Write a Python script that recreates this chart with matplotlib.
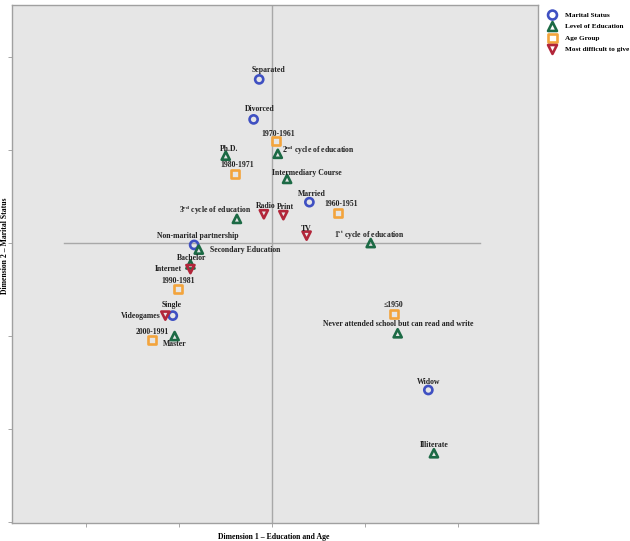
import matplotlib
matplotlib.use("Agg")
import matplotlib.pyplot as plt

plt.rcParams['font.family'] = ['Liberation Serif', 'DejaVu Serif']
plt.rcParams['font.weight'] = 'bold'

# ---- data ----
marital_labels = ["Separated", "Divorced", "Married", "Non-marital partnership", "Single", "Widow"]
marital_x = [-0.14, -0.20, 0.40, -0.84, -1.07, 1.68]
marital_y = [1.76, 1.33, 0.44, -0.02, -0.78, -1.58]

edu_labels = ["Ph.D.", "2$^{\\mathregular{nd}}$ cycle of education", "Intermediary Course",
              "3$^{\\mathregular{rd}}$ cycle of education", "1$^{\\mathregular{st}}$ cycle of education",
              "Secondary Education", "Bachelor", "Master",
              "Never attended school but can read and write", "Illiterate"]
edu_x = [-0.50, 0.06, 0.16, -0.38, 1.06, -0.79, -0.88, -1.05, 1.35, 1.74]
edu_y = [0.94, 0.96, 0.69, 0.26, 0.00, -0.07, -0.23, -1.00, -0.97, -2.26]

age_labels = ["1970-1961", "1980-1971", "1960-1951", "1990-1981", "2000-1991", "≤1950"]
age_x = [0.04, -0.40, 0.71, -1.01, -1.29, 1.31]
age_y = [1.10, 0.74, 0.32, -0.49, -1.04, -0.76]

diff_labels = ["Radio", "Print", "TV", "Internet", "Videogames"]
diff_x = [-0.09, 0.12, 0.37, -0.88, -1.15]
diff_y = [0.31, 0.30, 0.08, -0.28, -0.78]

legend_names = ["Marital Status", "Level of Education", "Age Group", "Most difficult to give"]

# label offsets in pixels (dx, dy, ha)
marital_off = [(9, 9, 'center'), (6, 10, 'center'), (2, 8, 'center'), (4, 9, 'center'),
               (-1, 11, 'center'), (0, 8, 'center')]
edu_off = [(3, 7, 'center'), (4, 4, 'left'), (20, 6, 'center'), (-22, 9, 'center'),
           (-1, 9, 'center'), (11, 0, 'left'), (1, 6, 'center'), (0, -8, 'center'),
           (1, 9, 'center'), (0, 8, 'center')]
age_off = [(2, 7, 'center'), (2, 9, 'center'), (3, 9, 'center'), (0, 8, 'center'),
           (0, 8, 'center'), (-1, 9, 'center')]
diff_off = [(2, 8, 'center'), (2, 8, 'center'), (0, 7, 'center'), (-9, 0, 'right'),
            (-5, 0, 'right')]

colors = ['#3f50c2', '#1c6a45', '#f3a43c', '#b2263a']
markers = ['o', '^', 's', 'v']

fig = plt.figure(figsize=(6.30, 5.41), dpi=100)
ax = fig.add_axes([12/630, 18/541, 526/630, 518/541])
ax.set_facecolor('#e6e6e6')
ax.set_xlim(-2.80, 2.86)
ax.set_ylim(-3.01, 2.56)

ax.axvline(0, color='#a8a8a8', lw=1.0, zorder=1)
ax.plot([-2.24, 2.24], [0, 0], color='#a8a8a8', lw=1.0, zorder=1)

groups = [(marital_x, marital_y, marital_labels, marital_off),
          (edu_x, edu_y, edu_labels, edu_off),
          (age_x, age_y, age_labels, age_off),
          (diff_x, diff_y, diff_labels, diff_off)]

for i, (xs, ys, labs, offs) in enumerate(groups):
    ax.scatter(xs, ys, marker=markers[i], s=34, facecolors='none',
               edgecolors=colors[i], linewidths=1.9, zorder=3, label=legend_names[i])
    for x, y, lab, (dx, dy, ha) in zip(xs, ys, labs, offs):
        ax.annotate(lab, (x, y), xytext=(dx, dy), textcoords='offset pixels',
                    ha=ha, va='center', fontsize=5.6, fontweight='bold', color='#222222')

ax.set_xticks([-2, -1, 0, 1, 2])
ax.set_yticks([-3, -2, -1, 0, 1, 2])
ax.set_xticklabels([])
ax.set_yticklabels([])
ax.tick_params(length=3, width=0.6, color='#999999', direction='out')
for s in ax.spines.values():
    s.set_color('#a0a0a0')
    s.set_linewidth(1.0)

ax.set_xlabel("Dimension 1 – Education and Age", fontsize=5.6, fontweight='bold')
ax.xaxis.set_label_coords(262/526, -14/518)
ax.xaxis.label.set_va('center')
ax.set_ylabel("Dimension 2 – Marital Status", fontsize=5.6, fontweight='bold')
ax.yaxis.set_label_coords(-7/526, 277/518)
ax.yaxis.label.set_va('center')

fig.legend(loc='upper left', bbox_to_anchor=(546/630, 1 - 9/541), frameon=False,
           fontsize=5.2, handletextpad=1.2, labelspacing=0.75, borderaxespad=0,
           handlelength=1.0, markerscale=1.1)

fig.savefig("out.png", dpi=100)
